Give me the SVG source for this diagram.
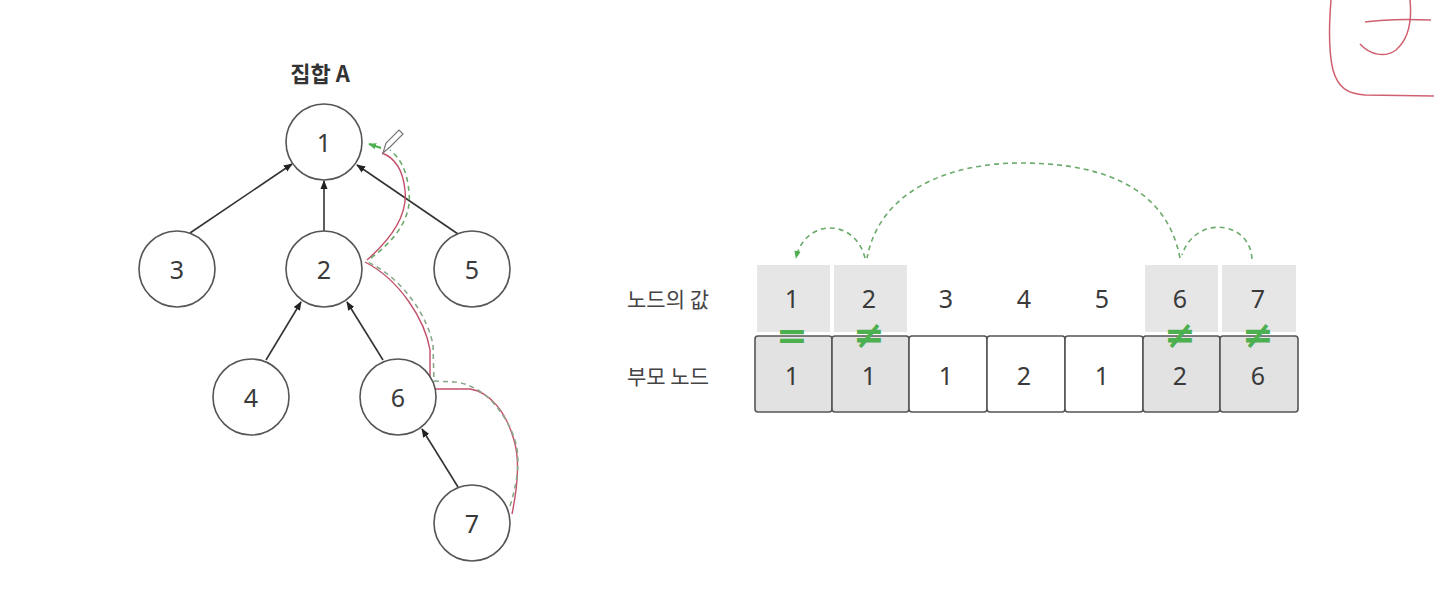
<svg xmlns="http://www.w3.org/2000/svg" width="1434" height="612" viewBox="0 0 1434 612">
<style>
.node circle{fill:#fff;stroke:#555;stroke-width:1.6}
.num{font-family:"Noto Sans","Noto Sans CJK KR",sans-serif;font-size:25px;fill:#3a3a3a;text-anchor:middle;dominant-baseline:central}
.lbl{font-family:"Noto Sans CJK KR","Noto Sans",sans-serif;font-size:21px;fill:#444;text-anchor:middle;dominant-baseline:central}
.edge{stroke:#333;stroke-width:1.6;fill:none;marker-end:url(#ah)}
.gdash{stroke:#6aaa6a;stroke-width:1.6;fill:none;stroke-dasharray:5 4}
.red{stroke:#c2506a;stroke-width:1.4;fill:none}
.sym{font-family:"DejaVu Sans",sans-serif;font-size:38px;font-weight:bold;fill:#4caf50;text-anchor:middle;dominant-baseline:central}
.topcell{fill:#e6e6e6}
.cell{stroke:#555;stroke-width:1.6}
</style>
<defs>
<marker id="ah" viewBox="0 0 10 10" refX="9" refY="5" markerWidth="9" markerHeight="9" orient="auto" markerUnits="userSpaceOnUse">
<path d="M0,1 L10,5 L0,9 z" fill="#222"/>
</marker>
<marker id="gah" viewBox="0 0 10 10" refX="9" refY="5" markerWidth="8" markerHeight="8" orient="auto" markerUnits="userSpaceOnUse">
<path d="M0,1 L10,5 L0,9 z" fill="#4caf50"/>
</marker>
</defs>
<rect width="1434" height="612" fill="#fff"/>

<text x="320" y="72" class="lbl" style="font-size:22px;font-weight:bold;fill:#333">집합 A</text>

<g id="connectors">
<line class="edge" x1="190" y1="233" x2="292" y2="164"/>
<line class="edge" x1="324" y1="231" x2="324" y2="181"/>
<line class="edge" x1="458" y1="234" x2="357" y2="165"/>
<line class="edge" x1="266" y1="360" x2="301" y2="302"/>
<line class="edge" x1="383" y1="360" x2="347" y2="302"/>
<line class="edge" x1="458" y1="487" x2="422" y2="429"/>
</g>

<g id="trace">
<path class="red" d="M512,514 C517,490 520,460 514,440 C506,412 490,392 470,389 L430,389 L430,350 C425,320 400,280 365,262"/>
<path class="red" d="M367,260 C390,240 408,215 405,190 C403,170 395,158 382,153"/>
<path class="gdash" style="stroke:#8aa88a" d="M510,506 C518,480 522,455 512,432 C500,405 480,385 455,382 L434,381 L433,345 C428,318 405,280 368,262"/>
<path class="gdash" d="M371,258 C395,240 412,218 409,192 C407,170 400,158 390,150"/>
<path d="M381,148 L369,144" stroke="#4caf50" stroke-width="2" fill="none" marker-end="url(#gah)"/>
<path d="M383,153 L386,143 L399,130 L403,134 L390,147 Z" fill="#fff" stroke="#777" stroke-width="1.2"/>
</g>

<g id="n1" class="node"><circle cx="324" cy="142" r="38"/><text x="324" y="142" class="num">1</text></g>
<g id="n3" class="node"><circle cx="177" cy="269" r="38"/><text x="177" y="269" class="num">3</text></g>
<g id="n2" class="node"><circle cx="324" cy="269" r="38"/><text x="324" y="269" class="num">2</text></g>
<g id="n5" class="node"><circle cx="472" cy="269" r="38"/><text x="472" y="269" class="num">5</text></g>
<g id="n4" class="node"><circle cx="251" cy="397" r="38"/><text x="251" y="397" class="num">4</text></g>
<g id="n6" class="node"><circle cx="398" cy="397" r="38"/><text x="398" y="397" class="num">6</text></g>
<g id="n7" class="node"><circle cx="472" cy="523" r="38"/><text x="472" y="523" class="num">7</text></g>

<g id="table">
<text x="668" y="298" class="lbl">노드의 값</text>
<text x="668" y="375" class="lbl">부모 노드</text>
<rect class="topcell" x="757" y="265" width="73" height="67"/>
<rect class="topcell" x="834" y="265" width="73" height="67"/>
<rect class="topcell" x="1145" y="265" width="73" height="67"/>
<rect class="topcell" x="1222" y="265" width="74" height="67"/>
<text x="792" y="298" class="num">1</text>
<text x="869" y="298" class="num">2</text>
<text x="946" y="298" class="num">3</text>
<text x="1024" y="298" class="num">4</text>
<text x="1102" y="298" class="num">5</text>
<text x="1180" y="298" class="num">6</text>
<text x="1258" y="298" class="num">7</text>
<rect class="cell" x="755" y="336" width="77" height="76" rx="3" fill="#e2e2e2"/>
<rect class="cell" x="832" y="336" width="77" height="76" rx="3" fill="#e2e2e2"/>
<rect class="cell" x="909" y="336" width="78" height="76" rx="3" fill="#fff"/>
<rect class="cell" x="987" y="336" width="78" height="76" rx="3" fill="#fff"/>
<rect class="cell" x="1065" y="336" width="78" height="76" rx="3" fill="#fff"/>
<rect class="cell" x="1143" y="336" width="77" height="76" rx="3" fill="#e2e2e2"/>
<rect class="cell" x="1220" y="336" width="78" height="76" rx="3" fill="#e2e2e2"/>
<text x="792" y="375" class="num">1</text>
<text x="869" y="375" class="num">1</text>
<text x="946" y="375" class="num">1</text>
<text x="1024" y="375" class="num">2</text>
<text x="1102" y="375" class="num">1</text>
<text x="1180" y="375" class="num">2</text>
<text x="1258" y="375" class="num">6</text>
<text x="792" y="335" class="sym">=</text>
<text x="869" y="335" class="sym">≠</text>
<text x="1180" y="335" class="sym">≠</text>
<text x="1258" y="335" class="sym">≠</text>
</g>

<g id="arcs">
<path class="gdash" d="M1252,259 C1250,220 1195,215 1182,255"/>
<path class="gdash" d="M1180,258 C1165,180 1090,163 1020,163 C950,163 880,190 867,258"/>
<path class="gdash" d="M865,258 C855,218 805,218 796,258" marker-end="url(#gah)"/>
</g>

<g id="scribble" class="red" style="stroke:#d06070;stroke-width:1.5">
<path d="M1331,0 C1329,25 1328,50 1333,70 C1338,88 1348,94 1365,95 L1434,96"/>
<path d="M1365,22 C1385,19 1410,19 1431,20"/>
<path d="M1410,0 C1412,20 1410,38 1396,50 C1385,58 1370,55 1360,44"/>
</g>
</svg>
